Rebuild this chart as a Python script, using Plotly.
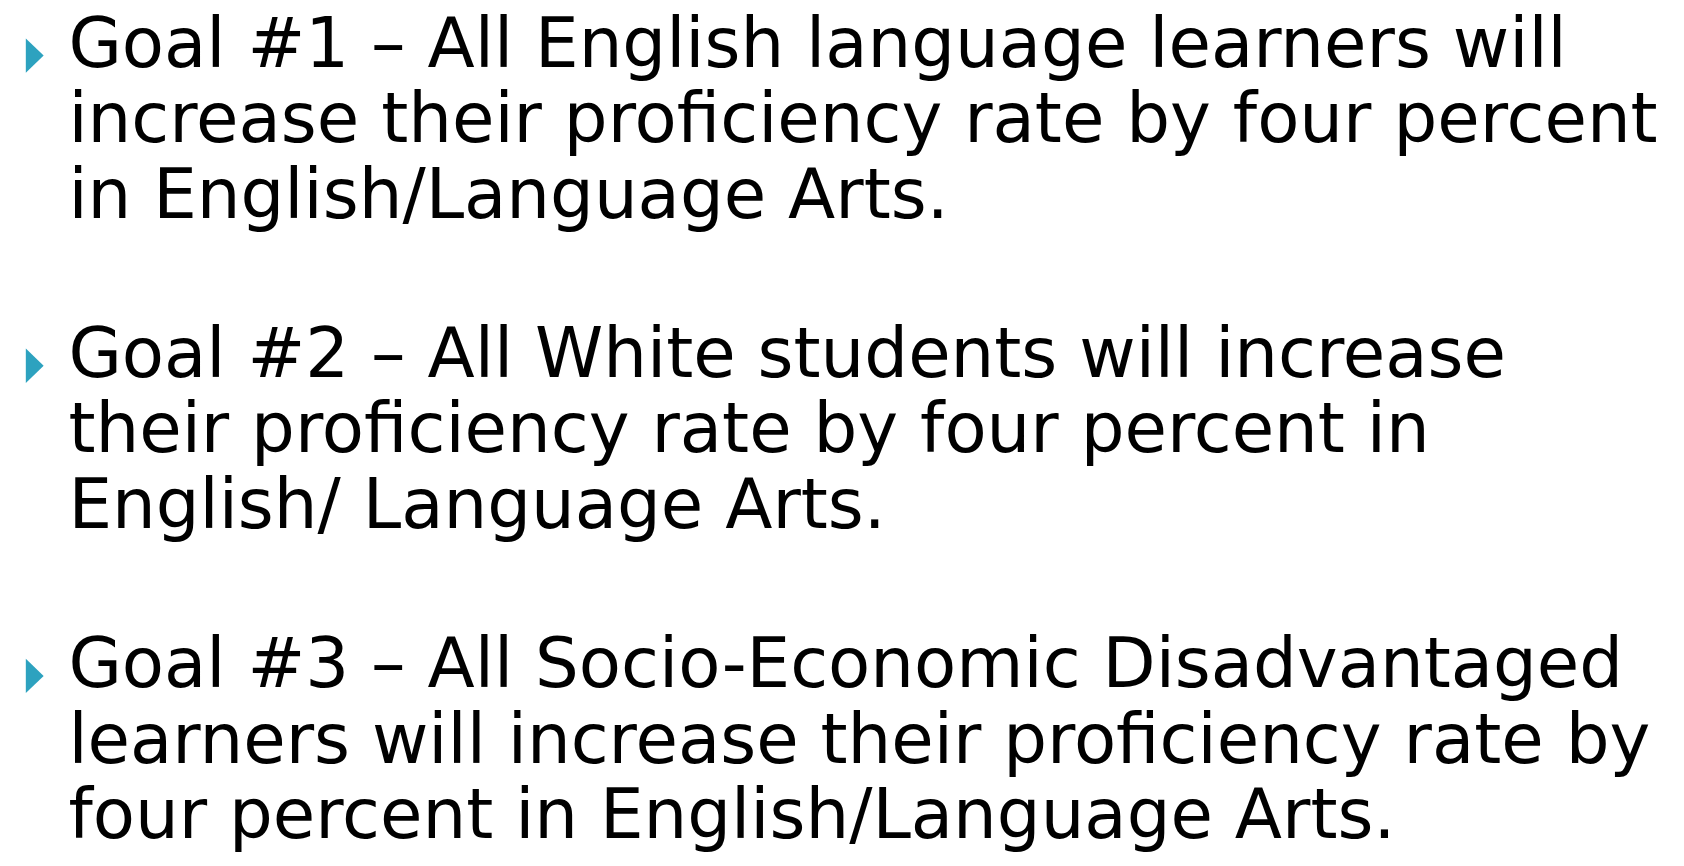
import plotly.graph_objects as go

# ---- content (the slide's text) ----
goal_labels = ["Goal #1", "Goal #2", "Goal #3"]
goal_lines = [
    ["Goal #1 \u2013 All English language learners will",
     "increase their proficiency rate by four percent",
     "in English/Language Arts."],
    ["Goal #2 \u2013 All White students will increase",
     "their proficiency rate by four percent in",
     "English/ Language Arts."],
    ["Goal #3 \u2013 All Socio-Economic Disadvantaged",
     "learners will increase their proficiency rate by",
     "four percent in English/Language Arts."],
]

# ---- layout constants ----
W, H = 1684, 866
FONT_SIZE = 69
TEXT_X = 61
FIRST_BASELINES = [67, 383, 699]
LINE_PITCH = 77
BULLET_COLOR = "#2DA2BF"

fig = go.Figure()

shapes = []
for g, lines in enumerate(goal_lines):
    b0 = FIRST_BASELINES[g]
    ys = [b0 + i * LINE_PITCH - 0.36 * FONT_SIZE for i in range(len(lines))]
    fig.add_trace(go.Scatter(
        x=[TEXT_X] * len(lines), y=ys, text=lines,
        mode="text", textposition="middle right",
        textfont=dict(family="DejaVu Sans", size=FONT_SIZE, color="#000000"),
        hoverinfo="skip", showlegend=False, name=goal_labels[g],
    ))
    # bullet triangle
    top, bot = b0 - 36, b0 - 1
    shapes.append(dict(
        type="path", xref="x", yref="y",
        path=f"M 18 {top} L 36 {(top + bot) / 2} L 18 {bot} Z",
        fillcolor=BULLET_COLOR, line=dict(width=0),
    ))

fig.update_layout(
    shapes=shapes,
    margin=dict(l=0, r=0, t=0, b=0),
    paper_bgcolor="white", plot_bgcolor="white",
    xaxis=dict(range=[0, W], visible=False, fixedrange=True),
    yaxis=dict(range=[H, 0], visible=False, fixedrange=True),
    showlegend=False,
)

fig.write_html("out.html", config={"displayModeBar": False})
